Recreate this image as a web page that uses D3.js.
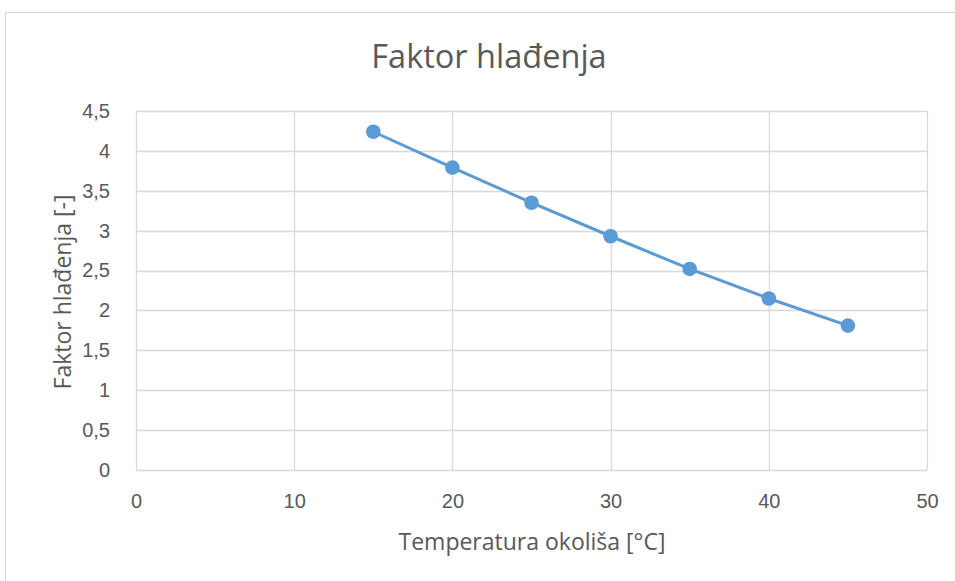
<!DOCTYPE html>
<html><head><meta charset="utf-8">
<script src="https://cdn.jsdelivr.net/npm/d3@7"></script>
<style>body{margin:0;background:#fff;}svg{display:block;font-family:"Open Sans","Liberation Sans",sans-serif;}</style>
</head><body>
<svg id="c" width="955" height="581"></svg>
<script>
const temps = [15, 20, 25, 30, 35, 40, 45];
const factor = [4.24, 3.79, 3.35, 2.93, 2.52, 2.15, 1.81];
const xTicks = [0, 10, 20, 30, 40, 50];
const yTicks = [0, 0.5, 1, 1.5, 2, 2.5, 3, 3.5, 4, 4.5];
const title = "Faktor hlađenja";
const xTitle = "Temperatura okoliša [°C]";
const yTitle = "Faktor hlađenja [-]";

const svg = d3.select("#c");
svg.append("rect").attr("x",5.5).attr("y",12.5).attr("width",960).attr("height",600)
  .attr("fill","#fff").attr("stroke","#d9d9d9");
const L=136,R=927,T=111,B=470;
const x = d3.scaleLinear().domain([0,50]).range([L,R]);
const y = d3.scaleLinear().domain([0,4.5]).range([B,T]);
const fmt = d => String(d).replace(".", ",");

const g = svg.append("g");
g.selectAll(".hg").data(yTicks).join("line")
  .attr("x1",L).attr("x2",R).attr("y1",d=>Math.round(y(d))+0.5).attr("y2",d=>Math.round(y(d))+0.5)
  .attr("stroke","#d9d9d9").attr("stroke-width",1.3);
g.selectAll(".vg").data(xTicks).join("line")
  .attr("y1",T).attr("y2",B).attr("x1",d=>Math.round(x(d))+0.5).attr("x2",d=>Math.round(x(d))+0.5)
  .attr("stroke","#d9d9d9").attr("stroke-width",1.3);

const xa = svg.append("g").attr("transform",`translate(0,${B+21})`)
  .call(d3.axisBottom(x).tickValues(xTicks).tickSize(0).tickFormat(fmt));
xa.select(".domain").remove();
xa.selectAll("text").attr("fill","#595959").style("font-size","20px").attr("dy","0.71em");
const ya = svg.append("g").attr("transform",`translate(${L-23},0)`)
  .call(d3.axisLeft(y).tickValues(yTicks).tickSize(0).tickFormat(fmt));
ya.select(".domain").remove();
ya.selectAll("text").attr("fill","#595959").style("font-size","20px");

const data = temps.map((t,i)=>({t, v: factor[i]}));
svg.append("path").datum(data).attr("fill","none").attr("stroke","#5b9bd5").attr("stroke-width",3)
  .attr("stroke-linejoin","round")
  .attr("d", d3.line().x(d=>x(d.t)).y(d=>y(d.v)));
svg.selectAll(".pt").data(data).join("circle")
  .attr("cx",d=>x(d.t)).attr("cy",d=>y(d.v)).attr("r",7.3).attr("fill","#5b9bd5");

svg.append("text").attr("x",489).attr("y",68).attr("text-anchor","middle")
  .style("font-size","32.5px").attr("fill","#595959").text(title);
svg.append("text").attr("x",532).attr("y",550).attr("text-anchor","middle")
  .style("font-size","23px").attr("fill","#595959").text(xTitle);
svg.append("text").attr("transform","translate(71,292) rotate(-90)").attr("text-anchor","middle")
  .style("font-size","23px").attr("fill","#595959").text(yTitle);
</script>
</body></html>
